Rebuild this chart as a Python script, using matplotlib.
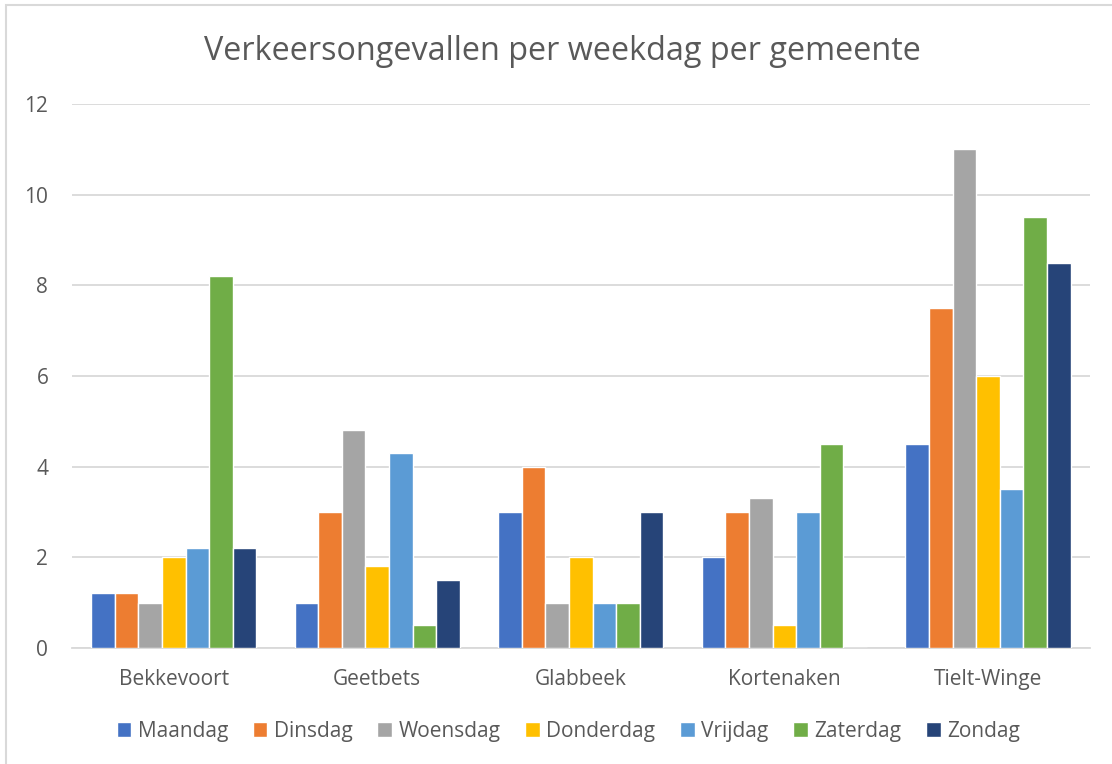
#!/usr/bin/env python3
import numpy as np
import matplotlib
matplotlib.use("Agg")
import matplotlib.pyplot as plt
from matplotlib.patches import Rectangle

# Data
gemeenten = ["Bekkevoort", "Geetbets", "Glabbeek", "Kortenaken", "Tielt-Winge"]
dagen = ["Maandag", "Dinsdag", "Woensdag", "Donderdag", "Vrijdag", "Zaterdag", "Zondag"]
maandag = [1.2, 1.0, 3.0, 2.0, 4.5]
dinsdag = [1.2, 3.0, 4.0, 3.0, 7.5]
woensdag = [1.0, 4.8, 1.0, 3.3, 11.0]
donderdag = [2.0, 1.8, 2.0, 0.5, 6.0]
vrijdag = [2.2, 4.3, 1.0, 3.0, 3.5]
zaterdag = [8.2, 0.5, 1.0, 4.5, 9.5]
zondag = [2.2, 1.5, 3.0, 0.0, 8.5]
yticks = [0, 2, 4, 6, 8, 10, 12]

kleuren = ["#4472C4", "#ED7D31", "#A5A5A5", "#FFC000", "#5B9BD5", "#70AD47", "#264478"]
tekstkleur = "#595959"

plt.rcParams['font.family'] = ['Open Sans', 'DejaVu Sans']

fig = plt.figure(figsize=(11.12, 7.64), dpi=100)
ax = fig.add_axes([0.0647, 0.152, 0.9153, 0.712])

reeksen = [maandag, dinsdag, woensdag, donderdag, vrijdag, zaterdag, zondag]
x = np.arange(len(gemeenten))
breedte = 0.116
for i, (naam, waarden) in enumerate(zip(dagen, reeksen)):
    offset = (i - 3) * breedte
    ax.bar(x + offset, waarden, width=breedte, color=kleuren[i],
           edgecolor="white", linewidth=1.0, label=naam, zorder=3)

ax.set_xlim(-0.5, len(gemeenten) - 0.5)
ax.set_ylim(0, 12)
ax.set_yticks(yticks)
ax.set_yticklabels([str(t) for t in yticks])
ax.set_xticks(x)
ax.set_xticklabels(gemeenten)
ax.grid(axis="y", color="#D9D9D9", linewidth=1.3, zorder=0)
for s in ["top", "right", "left"]:
    ax.spines[s].set_visible(False)
ax.spines["bottom"].set_color("#D9D9D9")
ax.spines["bottom"].set_linewidth(1.3)
ax.tick_params(axis="both", length=0, labelsize=15, colors=tekstkleur)
ax.tick_params(axis="y", pad=17)
ax.tick_params(axis="x", pad=15)

fig.text(0.506, 0.932, "Verkeersongevallen per weekdag per gemeente",
         ha="center", va="center", fontsize=23.3, color=tekstkleur)

fig.legend(loc="center", bbox_to_anchor=(0.511, 0.043), ncol=7, frameon=False,
           fontsize=15, labelcolor=tekstkleur, handlelength=0.7, handleheight=0.7,
           handletextpad=0.3, columnspacing=1.2)

# light border around the chart area
fig.patches.append(Rectangle((0.005, -0.01), 1.1, 1.003, transform=fig.transFigure,
                             fill=False, edgecolor="#D9D9D9", linewidth=1.5))

fig.savefig("out.png", dpi=100)
